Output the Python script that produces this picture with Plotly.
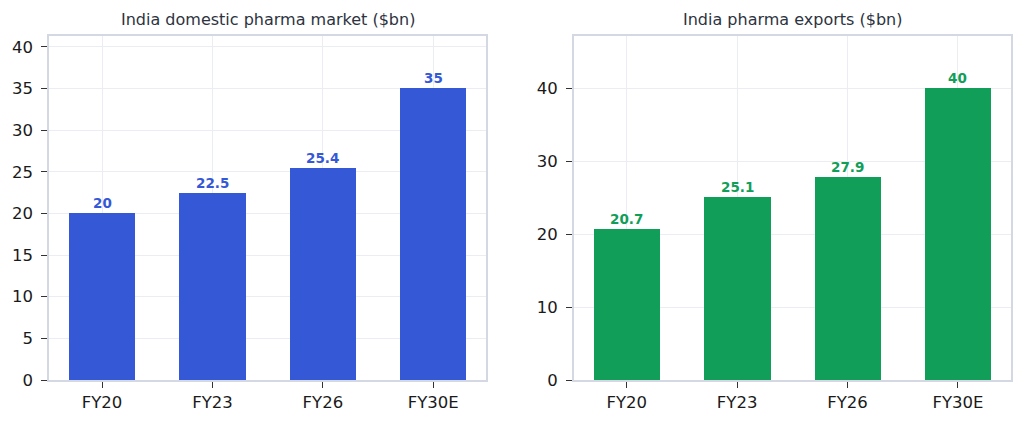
import plotly.graph_objects as go

categories = ["FY20", "FY23", "FY26", "FY30E"]
domestic = [20, 22.5, 25.4, 35]
exports = [20.7, 25.1, 27.9, 40]
titles = ["India domestic pharma market ($bn)", "India pharma exports ($bn)"]
colors = ["#3558d6", "#119e58"]

W, H = 1024, 423
ML, MR, MT, MB = 49, 13, 36, 43
PW = W - ML - MR
PH = H - MT - MB
fig = go.Figure()

font_family = "DejaVu Sans"
x_doms = [[0, (486.3 - ML) / PW], [(573.7 - ML) / PW, 1]]
series = [domestic, exports]
dticks = [5, 10]

for i, (vals, col) in enumerate(zip(series, colors)):
    xa = "x" if i == 0 else "x2"
    ya = "y" if i == 0 else "y2"
    fig.add_trace(go.Bar(x=list(range(len(categories))), y=vals,
                         marker=dict(color=col, line=dict(width=0)),
                         width=0.6, xaxis=xa, yaxis=ya, showlegend=False, hoverinfo="skip"))
    for j, v in enumerate(vals):
        fig.add_annotation(x=j, y=v, xref=xa, yref=ya, text=f"<b>{v:g}</b>", showarrow=False,
                           yanchor="bottom", yshift=0,
                           font=dict(family=font_family, size=13.5, color=col))
    fig.add_annotation(x=(x_doms[i][0] + x_doms[i][1]) / 2, y=1 + 16 / PH,
                       xref="paper", yref="paper", xanchor="center", yanchor="middle",
                       text=titles[i], showarrow=False,
                       font=dict(family=font_family, size=16, color="#2d3340"))

axis_common = dict(showline=True, linecolor="#d3d8e2", linewidth=1.5, mirror=True,
                   showgrid=True, gridcolor="#ebedf3", gridwidth=1, zeroline=False,
                   ticks="outside", ticklen=6, tickwidth=1.3, tickcolor="#333333",
                   automargin=False,
                   tickfont=dict(family=font_family, size=16.5, color="#1a1a1a"))

for i, vals in enumerate(series):
    sfx = "" if i == 0 else "2"
    ymax = max(vals) * 1.18
    fig.update_layout(**{
        f"xaxis{sfx}": dict(domain=x_doms[i], range=[-0.48, 3.48], tickmode="array",
                            tickvals=list(range(len(categories))), ticktext=categories,
                            anchor="y" + sfx, ticklabelstandoff=0, **axis_common),
        f"yaxis{sfx}": dict(domain=[0, 1], range=[0, ymax], dtick=dticks[i], tick0=0,
                            anchor="x" + sfx, ticklabelstandoff=5, **axis_common),
    })

fig.update_layout(width=W, height=H, margin=dict(l=ML, r=MR, t=MT, b=MB, pad=0),
                  paper_bgcolor="white", plot_bgcolor="white", bargap=0)
fig.write_html("out.html")
